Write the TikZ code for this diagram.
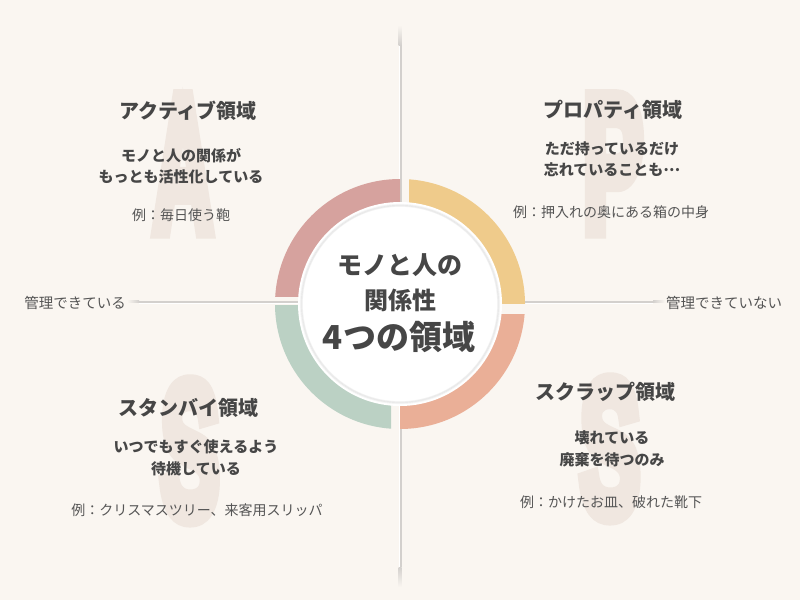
\documentclass[tikz,border=0pt]{standalone}
\usepackage{fontspec}
\usepackage{xcolor}
\usepackage{tikz}
\usetikzlibrary{positioning}
\newfontfamily\jp{Noto Sans CJK JP}
\newfontfamily\bigfont[FakeBold=9]{Liberation Sans}
\definecolor{bgcream}{HTML}{FAF6F1}
\definecolor{letterbeige}{HTML}{F0E7E0}
\definecolor{textdark}{HTML}{464646}
\definecolor{textgray}{HTML}{555555}
\definecolor{axisgray}{HTML}{D3D0CD}
\definecolor{ringrose}{HTML}{D6A29E}
\definecolor{ringyellow}{HTML}{EFCB8B}
\definecolor{ringsalmon}{HTML}{EAAF97}
\definecolor{ringsage}{HTML}{BBD1C4}

\begin{document}
\begin{tikzpicture}[x=1pt,y=-1pt,
  title/.style={font=\jp\bfseries\fontsize{20}{24}\selectfont, text=textdark},
  body/.style={font=\jp\bfseries\fontsize{15}{21.5}\selectfont, text=textdark, align=center},
  example/.style={font=\jp\fontsize{14}{18}\selectfont, text=textgray},
  axislabel/.style={font=\jp\fontsize{14.5}{18}\selectfont, text=textgray, inner sep=1pt},
  centertext/.style={text=textdark, inner sep=0pt},
  bigletter/.style={font=\bigfont\bfseries\fontsize{192}{192}\selectfont, text=letterbeige, anchor=base, inner sep=0pt},
  axisline/.style={draw=axisgray, line width=3pt},
  axishi/.style={draw=white, line width=0.8pt}]
  % background
  \fill[bgcream] (0,0) rectangle (800,600);
  \useasboundingbox (0,0) rectangle (800,600);
  % big letters behind the quadrants
  \node[bigletter] (letA) at (183,230) {\scalebox{0.43}[1]{A}};
  \node[bigletter] (letP) at (613,230) {\scalebox{0.47}[1]{P}};
  \node[bigletter] (letS) at (190,517) {\scalebox{0.46}[1]{S}};
  \node[bigletter] (letT) at (610,515) {\scalebox{0.47}[1]{S}};
  % axis labels
  \node[axislabel, anchor=east] (lblleft) at (127,303) {管理できている};
  \node[axislabel, anchor=west] (lblright) at (665,303) {管理できていない};
  % vertical axis
  \coordinate (vtop) at (400,45);
  \coordinate (vbot) at (400,567);
  \draw[axisline] (vtop) -- (vbot);
  \draw[axishi] ([xshift=-1pt]vtop) -- ([xshift=-1pt]vbot);
  \shade[top color=bgcream, bottom color=axisgray] (398.5,25) rectangle (401.5,45);
  \shade[top color=axisgray, bottom color=bgcream] (398.5,567) rectangle (401.5,587);
  % horizontal axis
  \coordinate (hleft) at ([xshift=12pt]lblleft.east);
  \coordinate (hright) at ([xshift=-12pt]lblright.west);
  \draw[axisline] ([yshift=1pt]hleft) -- ([yshift=1pt]hright);
  \draw[axishi] ([yshift=-0.5pt]hleft) -- ([yshift=-0.5pt]hright);
  \shade[left color=bgcream, right color=axisgray] (lblleft.east) ++(0,-0.5) rectangle ([yshift=2.5pt]hleft);
  \shade[left color=axisgray, right color=bgcream] (hright) ++(0,-0.5) rectangle ([yshift=2.5pt]lblright.west);
  % ring
  \coordinate (ctr) at (400,304);
  \begin{scope}
    \clip (270,170) rectangle (400,296);
    \fill[ringrose, even odd rule] (ctr) circle (125pt) (ctr) circle (100pt);
  \end{scope}
  \begin{scope}
    \clip (409,170) rectangle (530,303);
    \fill[ringyellow, even odd rule] (ctr) circle (125pt) (ctr) circle (100pt);
  \end{scope}
  \begin{scope}
    \clip (400,314) rectangle (530,435);
    \fill[ringsalmon, even odd rule] (ctr) circle (125pt) (ctr) circle (100pt);
  \end{scope}
  \begin{scope}
    \clip (270,305) rectangle (391,435);
    \fill[ringsage, even odd rule] (ctr) circle (125pt) (ctr) circle (100pt);
  \end{scope}
  % white disc with soft inner shadow
  \fill[white] (ctr) circle (102pt);
  \foreach \r/\o in {99.5/0.04, 98.5/0.07, 97.5/0.04}
    \draw[black, opacity=\o, line width=1.2pt] (ctr) circle (\r pt);
  \fill[white] (ctr) circle (97pt);
  % center text
  \node[centertext, font=\jp\bfseries\fontsize{25}{30}\selectfont] (ctrA) at (400,265) {モノと人の};
  \node[centertext, font=\jp\bfseries\fontsize{24}{30}\selectfont] (ctrB) at (400,300) {関係性};
  \node[centertext, font=\jp\bfseries\fontsize{33}{40}\selectfont] (ctrC) at (399,337) {4つの領域};
  % active
  \node[title] (actT) at (188,111) {アクティブ領域};
  \node[body] (actB) at (181,166) {モノと人の関係が\\もっとも活性化している};
  \node[example] (actE) at (181,215) {例：毎日使う鞄};
  % property
  \node[title] (proT) at (613,110) {プロパティ領域};
  \node[body] (proB) at (612,159) {ただ持っているだけ\\忘れていることも\raisebox{0.3em}{…}};
  \node[example] (proE) at (611,212) {例：押入れの奥にある箱の中身};
  % standby
  \node[title] (staT) at (188,408) {スタンバイ領域};
  \node[body] (staB) at (196,458) {いつでもすぐ使えるよう\\待機している};
  \node[example] (staE) at (197,510) {例：クリスマスツリー、来客用スリッパ};
  % scrap
  \node[title] (scrT) at (605,392) {スクラップ領域};
  \node[body] (scrB) at (612,449) {壊れている\\廃棄を待つのみ};
  \node[example] (scrE) at (611,502) {例：かけたお皿、破れた靴下};
\end{tikzpicture}
\end{document}
